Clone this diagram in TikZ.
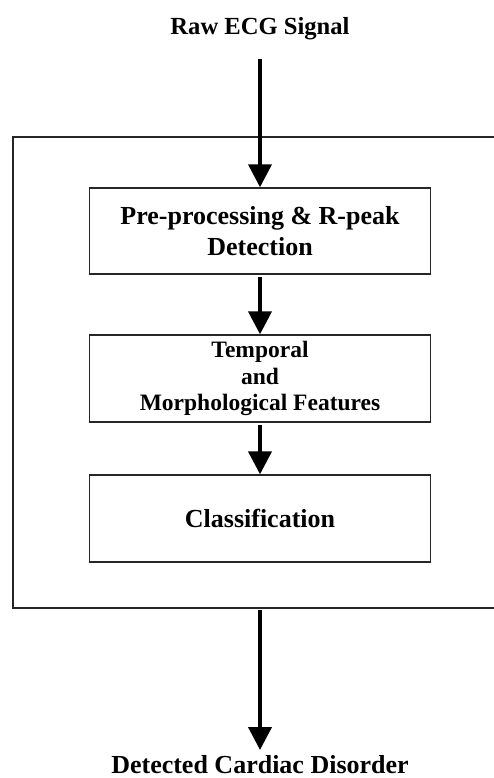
\documentclass[tikz,border=0pt]{standalone}
\usepackage{fontspec}
\setmainfont{Liberation Serif}
\usetikzlibrary{arrows.meta}
\tikzset{
  stepbox/.style={draw=black!85, line width=1.4pt, minimum width=341pt, inner sep=0pt, align=center, font=\bfseries\fontsize{26}{30}\selectfont},
  flowarrow/.style={line width=4pt, -{Triangle[width=23pt,length=23pt]}},
  framebox/.style={draw=black!85, line width=1.1pt},
  label/.style={inner sep=0pt, font=\bfseries\fontsize{26}{30}\selectfont}
}
\begin{document}
\begin{tikzpicture}[x=1pt,y=-1pt]
\useasboundingbox (0,0) rectangle (494,778);
\clip (0,0) rectangle (494,778);
% outer frame
\draw[framebox] (13,137) rectangle (530,608);
% labels
\node[label, anchor=base, font=\bfseries\fontsize{24.6}{28}\selectfont] (raw) at (260,35) {Raw ECG Signal};
\node[label, anchor=base] (out) at (260,773) {Detected Cardiac Disorder};
% boxes
\node[stepbox, minimum height=86pt] (b1) at (260,231) {Pre-processing \& R-peak\\[1pt]Detection};
\node[stepbox, minimum height=87pt, font=\bfseries\fontsize{23.5}{26.5}\selectfont] (b2) at (260,378.5) {Temporal\\and\\Morphological Features};
\node[stepbox, minimum height=87pt] (b3) at (260,518.5) {Classification};
% connectors
\coordinate (s0) at (260,59);
\coordinate (e0) at (260,610);
\coordinate (e1) at (260,750);
\draw[flowarrow] (s0) -- (b1.north);
\draw[flowarrow] ([yshift=-2pt]b1.south) -- (b2.north);
\draw[flowarrow] ([yshift=-2pt]b2.south) -- (b3.north);
\draw[flowarrow] (e0) -- (e1);
\end{tikzpicture}
\end{document}
